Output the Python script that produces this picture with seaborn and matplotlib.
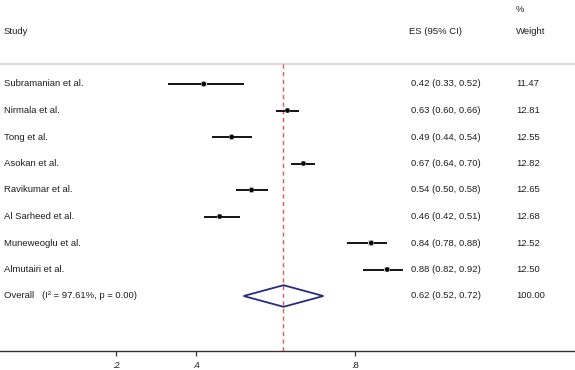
import numpy as np
import pandas as pd
import seaborn as sns
import matplotlib.pyplot as plt
from matplotlib.patches import Polygon

# study level data
studies = ["Subramanian et al.", "Nirmala et al.", "Tong et al.", "Asokan et al.",
           "Ravikumar et al.", "Al Sarheed et al.", "Muneweoglu et al.", "Almutairi et al."]
es = [0.42, 0.63, 0.49, 0.67, 0.54, 0.46, 0.84, 0.88]
ci_low = [0.33, 0.60, 0.44, 0.64, 0.50, 0.42, 0.78, 0.82]
ci_high = [0.52, 0.66, 0.54, 0.70, 0.58, 0.51, 0.88, 0.92]
weights = [11.47, 12.81, 12.55, 12.82, 12.65, 12.68, 12.52, 12.50]

overall_es = 0.62
overall_low = 0.52
overall_high = 0.72
overall_label = "Overall   (I\u00b2 = 97.61%, p = 0.00)"

xticks = [0.2, 0.4, 0.8]
xtick_labels = [".2", ".4", ".8"]

df = pd.DataFrame({"study": studies, "es": es, "lo": ci_low, "hi": ci_high, "w": weights})
df["row"] = np.arange(len(df))
overall_row = len(df)

sns.set_style("white")
plt.rcParams["font.family"] = ["Liberation Sans", "DejaVu Sans"]
txt = "#1e1e1e"
fs = 6.8

W, H = 575, 370
fig = plt.figure(figsize=(W / 100, H / 100), dpi=100)
ax_bottom = 350.7
ax = fig.add_axes([0, (H - ax_bottom) / H, 1, ax_bottom / H])

# pixel mapping: x px = 116 + (v - 0.2) * 398.8
ppu = 398.8
ax.set_xlim(0.2 - 116 / ppu, 0.2 + (W - 116) / ppu)
# rows: y px = 84 + 26.5 * row
row_px = 26.5
ax.set_ylim((ax_bottom - 84) / row_px, -84 / row_px)

def px_to_row(p):
    return (p - 84) / row_px

# header separator
ax.axhline(px_to_row(63.5), color="#dadada", lw=1.6, zorder=1)

# null line at overall estimate
ax.plot([overall_es, overall_es], [px_to_row(64), px_to_row(ax_bottom)],
        color="#dc5a55", lw=1.0, ls=(0, (3, 2.5)), zorder=2)

# confidence intervals
ax.hlines(df["row"], df["lo"], df["hi"], color="black", lw=1.3, zorder=3)
sns.scatterplot(data=df, x="es", y="row", marker="s", s=16, color="#d4d4d4",
                edgecolor="none", ax=ax, zorder=3, legend=False)
sns.scatterplot(data=df, x="es", y="row", marker="o", s=11, color="black",
                edgecolor="none", ax=ax, zorder=4, legend=False)

# overall diamond
dh = 10.8 / row_px
diamond = Polygon([[overall_low, overall_row], [overall_es, overall_row - dh],
                   [overall_high, overall_row], [overall_es, overall_row + dh]],
                  closed=True, fill=False, edgecolor="#2b2b7e", lw=1.3, zorder=5)
ax.add_patch(diamond)

# text columns
def colx(p):
    return ax.get_xlim()[0] + p / ppu

ax.text(colx(4), px_to_row(31), "Study", fontsize=fs, color=txt, va="center")
ax.text(colx(409), px_to_row(31), "ES (95% CI)", fontsize=fs, color=txt, va="center")
ax.text(colx(516), px_to_row(31), "Weight", fontsize=fs, color=txt, va="center")
ax.text(colx(516), px_to_row(9), "%", fontsize=fs, color=txt, va="center")

for _, r in df.iterrows():
    ax.text(colx(4), r["row"], r["study"], fontsize=fs, color=txt, va="center")
    ax.text(colx(411), r["row"], f"{r['es']:.2f} ({r['lo']:.2f}, {r['hi']:.2f})",
            fontsize=fs, color=txt, va="center")
    ax.text(colx(516), r["row"], f"{r['w']:.2f}", fontsize=fs, color=txt, va="center")

ax.text(colx(4), overall_row, overall_label, fontsize=fs, color=txt, va="center")
ax.text(colx(411), overall_row, f"{overall_es:.2f} ({overall_low:.2f}, {overall_high:.2f})",
        fontsize=fs, color=txt, va="center")
ax.text(colx(516), overall_row, f"{sum(weights):.2f}", fontsize=fs, color=txt, va="center")

# x axis
for s in ["top", "left", "right"]:
    ax.spines[s].set_visible(False)
ax.spines["bottom"].set_color("#333333")
ax.spines["bottom"].set_linewidth(1.0)
ax.set_xticks(xticks)
ax.set_xticklabels(xtick_labels)
ax.tick_params(axis="x", bottom=True, direction="out", length=3.6, width=0.9,
               color="#333333", labelsize=fs, labelcolor=txt, pad=4)
ax.set_yticks([])
ax.set_xlabel("")
ax.set_ylabel("")

fig.savefig("out.png", dpi=100)
